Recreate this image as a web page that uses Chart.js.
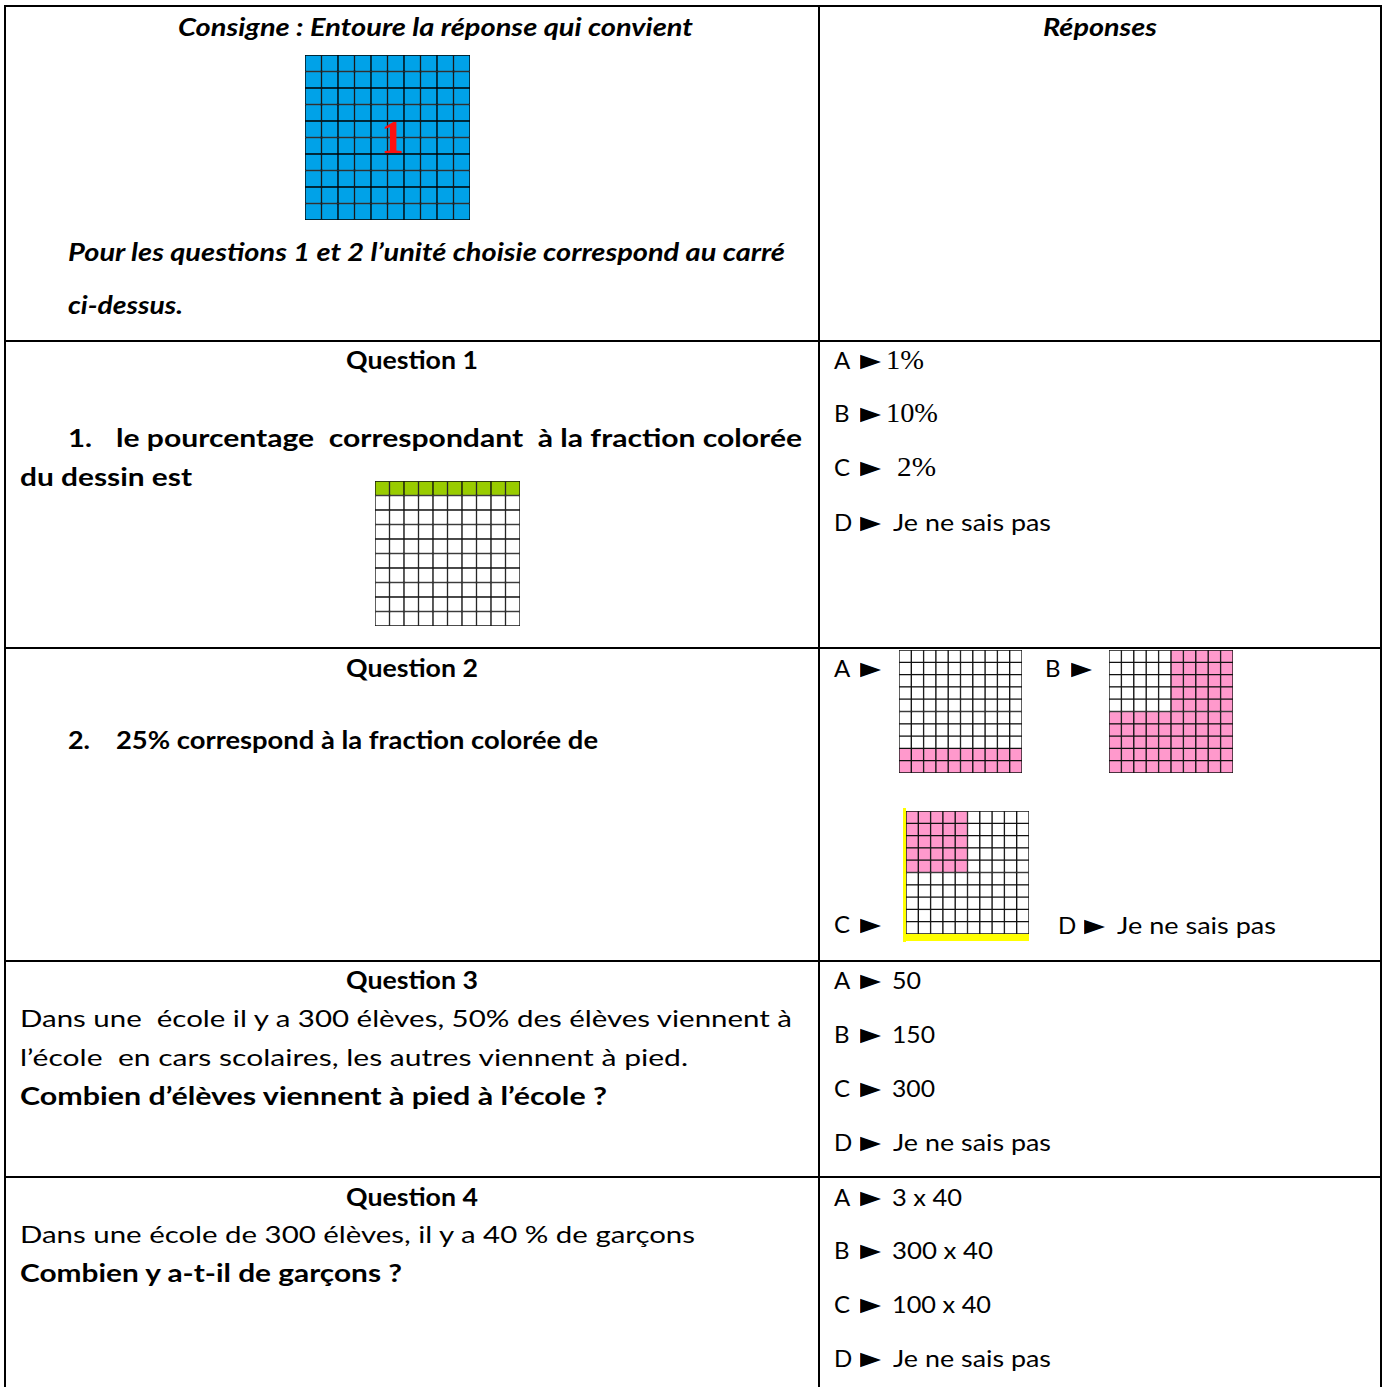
<!DOCTYPE html>
<html>
<head>
<meta charset="utf-8">
<title>Pourcentages - QCM</title>
<script src="https://cdn.jsdelivr.net/npm/chart.js@4.4.1/dist/chart.umd.min.js"></script>
<style>
	body { margin: 0; background: #fff; }
	#page { position: relative; width: 1389px; height: 1387px; overflow: hidden; font-family: Lato, "Noto Sans", sans-serif; color: #000; }
	.line { position: absolute; background: #000; }
	.txt { position: absolute; white-space: pre; font-size: 24px; line-height: 32px; height: 32px; transform-origin: left center; }
	.b { font-weight: bold; }
	.bi { font-weight: bold; font-style: italic; }
	.big { font-size: 25px; }
	#page .txt.serif { font-family: "Liberation Serif", "DejaVu Serif", serif; font-size: 27px; }
	#page .txt.tri { font-family: "DejaVu Sans", sans-serif; font-size: 19px; }
	canvas { position: absolute; }
	#yellowLeft { position: absolute; left: 903px; top: 808px; width: 3px; height: 134px; background: #ffff00; }
	#yellowBottom { position: absolute; left: 903px; top: 934px; width: 126px; height: 7px; background: #ffff00; }
</style>
</head>
<body>
<div id="page">
	<div class="line" style="left:4px;top:5px;width:1378px;height:2px"></div>
	<div class="line" style="left:4px;top:5px;width:2px;height:1382px"></div>
	<div class="line" style="left:1380px;top:5px;width:2px;height:1382px"></div>
	<div class="line" style="left:818px;top:5px;width:2px;height:1382px"></div>
	<div class="line" style="left:4px;top:340px;width:1378px;height:2px"></div>
	<div class="line" style="left:4px;top:647px;width:1378px;height:2px"></div>
	<div class="line" style="left:4px;top:960px;width:1378px;height:2px"></div>
	<div class="line" style="left:4px;top:1176px;width:1378px;height:2px"></div>

	<div id="yellowLeft"></div>
	<div id="yellowBottom"></div>

	<canvas id="unit-grid" width="165" height="165" style="left:305px;top:55px"></canvas>
	<canvas id="q1-grid" width="145" height="145" style="left:375px;top:481px"></canvas>
	<canvas id="q2a-grid" width="123" height="123" style="left:899px;top:650px"></canvas>
	<canvas id="q2b-grid" width="124" height="123" style="left:1109px;top:650px"></canvas>
	<canvas id="q2c-grid" width="123" height="123" style="left:906px;top:811px"></canvas>
</div>

<script>
// Grid columns (10 x 10 squares)
const columns = ["1", "2", "3", "4", "5", "6", "7", "8", "9", "10"];

// Coloured cells of each square, top row first ("1" = coloured)
const unitSquare = [
	"1111111111",
	"1111111111",
	"1111111111",
	"1111111111",
	"1111111111",
	"1111111111",
	"1111111111",
	"1111111111",
	"1111111111",
	"1111111111",
];
const q1Square = [
	"1111111111",
	"0000000000",
	"0000000000",
	"0000000000",
	"0000000000",
	"0000000000",
	"0000000000",
	"0000000000",
	"0000000000",
	"0000000000",
];
const q2aSquare = [
	"0000000000",
	"0000000000",
	"0000000000",
	"0000000000",
	"0000000000",
	"0000000000",
	"0000000000",
	"0000000000",
	"1111111111",
	"1111111111",
];
const q2bSquare = [
	"0000011111",
	"0000011111",
	"0000011111",
	"0000011111",
	"0000011111",
	"1111111111",
	"1111111111",
	"1111111111",
	"1111111111",
	"1111111111",
];
const q2cSquare = [
	"1111100000",
	"1111100000",
	"1111100000",
	"1111100000",
	"1111100000",
	"0000000000",
	"0000000000",
	"0000000000",
	"0000000000",
	"0000000000",
];

// Red "1" written on the unit square
const unitLabelPlugin = {
	id: "unitLabel",
	afterDatasetsDraw(chart) {
		const { ctx, chartArea } = chart;
		ctx.save();
		ctx.font = 'bold 46px "Liberation Serif"';
		ctx.fillStyle = "#ff1010";
		ctx.textAlign = "center";
		ctx.textBaseline = "middle";
		ctx.fillText("1", (chartArea.left + chartArea.right) / 2 + 5, (chartArea.top + chartArea.bottom) / 2 + 4);
		ctx.restore();
	},
};

function makeGrid(id, mask, color, lineColor, plugins) {
	const datasets = [];
	// stacked bars start at the bottom, so walk the rows upward
	for (let r = mask.length - 1; r >= 0; r--) {
		datasets.push({
			data: columns.map(() => 1),
			backgroundColor: columns.map((c, i) => (mask[r][i] === "1" ? color : "#ffffff")),
			borderColor: lineColor,
			borderWidth: 1,
			borderSkipped: false,
			categoryPercentage: 1,
			barPercentage: 1,
		});
	}
	return new Chart(document.getElementById(id), {
		type: "bar",
		data: { labels: columns, datasets: datasets },
		options: {
			responsive: false,
			animation: false,
			events: [],
			layout: { padding: 0 },
			plugins: { legend: { display: false }, tooltip: { enabled: false } },
			scales: {
				x: { stacked: true, display: false },
				y: { stacked: true, display: false, min: 0, max: 10 },
			},
		},
		plugins: plugins || [],
	});
}

makeGrid("unit-grid", unitSquare, "#00a2e8", "#000000", [unitLabelPlugin]);
makeGrid("q1-grid", q1Square, "#99cc00", "#111111");
makeGrid("q2a-grid", q2aSquare, "#ff99cc", "#111111");
makeGrid("q2b-grid", q2bSquare, "#ff99cc", "#111111");
makeGrid("q2c-grid", q2cSquare, "#ff99cc", "#111111");

// TEXT: [text, left, centre y, width, classes]
const texts = [
	["Consigne : Entoure la réponse qui convient", 178, 27, 515, "bi"],
	["Réponses", 1043, 27, 114, "bi"],
	["Pour les questions 1 et 2 l’unité choisie correspond au carré", 68, 252, 717, "bi"],
	["ci-dessus.", 68, 305, 115, "bi"],
	["Question 1", 346, 360, 132, "b"],
	["1.", 68, 437, 24, "b big"],
	["le pourcentage  correspondant  à la fraction colorée", 116, 437, 686, "b big"],
	["du dessin est", 20, 476, 172, "b big"],
	["Question 2", 346, 668, 132, "b"],
	["2.", 68, 740, 22, "b"],
	["25% correspond à la fraction colorée de", 116, 740, 482, "b"],
	["Question 3", 346, 980, 132, "b"],
	["Dans une  école il y a 300 élèves, 50% des élèves viennent à", 20, 1018, 772, ""],
	["l’école  en cars scolaires, les autres viennent à pied.", 20, 1057, 668, ""],
	["Combien d’élèves viennent à pied à l’école ?", 20, 1096, 587, "b"],
	["Question 4", 346, 1197, 132, "b"],
	["Dans une école de 300 élèves, il y a 40 % de garçons", 20, 1234, 675, ""],
	["Combien y a-t-il de garçons ?", 20, 1273, 382, "b"],
];

// CHOICES: [letter, left, centre y, answer, answer left, answer width, classes]
const choices = [
	["A", 834, 360, "1%", 886, 38, "serif"],
	["B", 834, 413, "10%", 886, 52, "serif"],
	["C", 834, 467, "2%", 897, 39, "serif"],
	["D", 834, 522, "Je ne sais pas", 893, 158, ""],
	["A", 834, 668, "", 0, 0, ""],
	["B", 1045, 668, "", 0, 0, ""],
	["C", 834, 924, "", 0, 0, ""],
	["D", 1058, 925, "Je ne sais pas", 1117, 159, ""],
	["A", 834, 980, "50", 892, 29, ""],
	["B", 834, 1034, "150", 892, 43, ""],
	["C", 834, 1088, "300", 892, 43, ""],
	["D", 834, 1142, "Je ne sais pas", 893, 158, ""],
	["A", 834, 1197, "3 x 40", 892, 70, ""],
	["B", 834, 1250, "300 x 40", 892, 101, ""],
	["C", 834, 1304, "100 x 40", 892, 99, ""],
	["D", 834, 1358, "Je ne sais pas", 893, 158, ""],
];

const page = document.getElementById("page");
const fitList = [];

function addText(text, x, y, w, cls) {
	const el = document.createElement("div");
	el.className = "txt " + cls;
	el.textContent = text;
	el.style.left = x + "px";
	el.style.top = y - 16 + "px";
	page.appendChild(el);
	if (w) fitList.push([el, w]);
}

texts.forEach((t) => addText(t[0], t[1], t[2], t[3], t[4]));
choices.forEach((c) => {
	addText(c[0], c[1], c[2], 0, "");
	addText("▶", c[1] + 26, c[2], 21, "tri");
	if (c[3]) addText(c[3], c[4], c[2], c[5], c[6]);
});

// squeeze each line to the width it has in the worksheet
function fitAll() {
	fitList.forEach(([el, w]) => {
		el.style.transform = "none";
		const actual = el.getBoundingClientRect().width;
		if (actual > 0) el.style.transform = `scaleX(${w / actual})`;
	});
}
fitAll();
document.fonts.ready.then(fitAll);
</script>
</body>
</html>
